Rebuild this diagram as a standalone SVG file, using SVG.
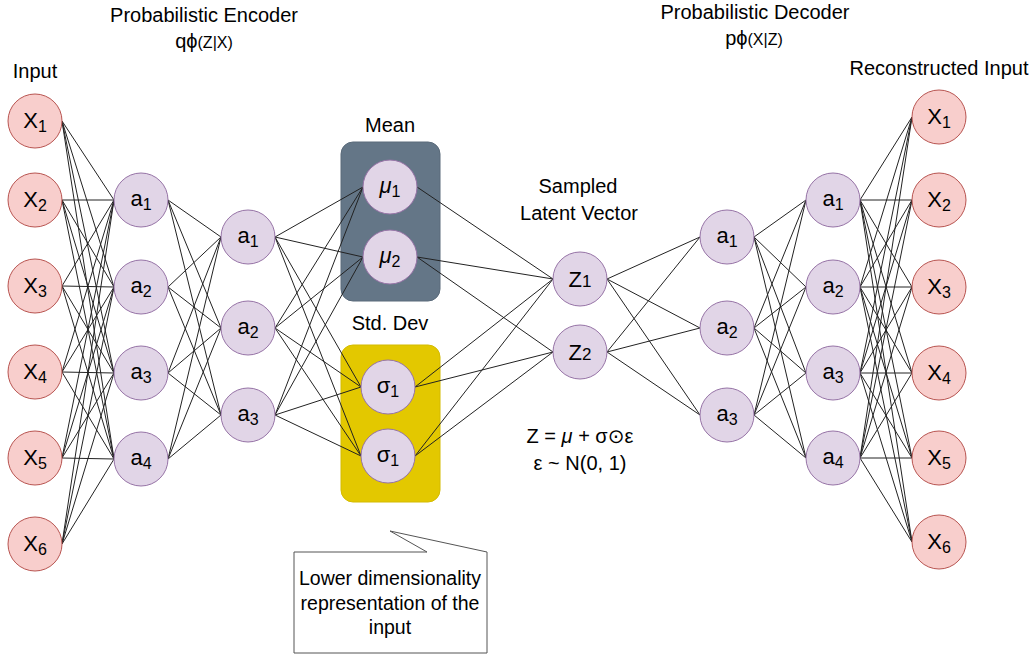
<svg xmlns="http://www.w3.org/2000/svg" width="1033" height="656" viewBox="0 0 1033 656">
<style>
text{font-family:"Liberation Sans",Arial,"DejaVu Sans",sans-serif;fill:#000;}
.t{font-size:20px;text-anchor:middle;}
.c{font-size:19.5px;text-anchor:middle;}
.lbl{font-size:22px;text-anchor:middle;}
.sub{font-size:16px;}
.xin{fill:#f8cecc;stroke:#b85450;stroke-width:1;}
.hid{fill:#e1d5e7;stroke:#9673a6;stroke-width:1;}
#edges path{stroke:#222;stroke-width:1;fill:none;}
</style>
<rect width="1033" height="656" fill="#ffffff"/>
<g id="titles">
<text class="t" x="204" y="22">Probabilistic Encoder</text>
<text class="t" x="204" y="48" style="font-size:20px">qϕ<tspan style="font-size:16px">(Z|X)</tspan></text>
<text class="t" x="35" y="78">Input</text>
<text class="t" x="755" y="19">Probabilistic Decoder</text>
<text class="t" x="754" y="45" style="font-size:20px">pϕ<tspan style="font-size:16px">(X|Z)</tspan></text>
<text class="t" x="939" y="75">Reconstructed Input</text>
<text class="t" x="390" y="132">Mean</text>
<text class="t" x="390" y="330">Std. Dev</text>
<text class="t" x="578" y="193">Sampled</text>
<text class="t" x="579" y="220">Latent Vector</text>
<text class="t" x="580" y="443">Z = <tspan font-style="italic">μ</tspan> + σ⊙ε</text>
<text class="t" x="580" y="470">ε ~ N(0, 1)</text>
</g>
<g id="mean-box"><rect x="341" y="142" width="99" height="159" rx="12" fill="#647687" stroke="#5a6a7a"/></g>
<g id="std-box"><rect x="341" y="345" width="99" height="157" rx="12" fill="#e3c800" stroke="#d4bb00"/></g>
<g id="edges">
<path d="M62 121L114 200"/><path d="M62 121L114 287"/><path d="M62 121L114 373"/><path d="M62 121L114 459"/>
<path d="M62 200L114 200"/><path d="M62 200L114 287"/><path d="M62 200L114 373"/><path d="M62 200L114 459"/>
<path d="M62 286L114 200"/><path d="M62 286L114 287"/><path d="M62 286L114 373"/><path d="M62 286L114 459"/>
<path d="M62 372L114 200"/><path d="M62 372L114 287"/><path d="M62 372L114 373"/><path d="M62 372L114 459"/>
<path d="M62 458L114 200"/><path d="M62 458L114 287"/><path d="M62 458L114 373"/><path d="M62 458L114 459"/>
<path d="M62 544L114 200"/><path d="M62 544L114 287"/><path d="M62 544L114 373"/><path d="M62 544L114 459"/>
<path d="M168 200L221 237"/><path d="M168 200L221 328"/><path d="M168 200L221 415"/>
<path d="M168 287L221 237"/><path d="M168 287L221 328"/><path d="M168 287L221 415"/>
<path d="M168 373L221 237"/><path d="M168 373L221 328"/><path d="M168 373L221 415"/>
<path d="M168 459L221 237"/><path d="M168 459L221 328"/><path d="M168 459L221 415"/>
<path d="M275 237L363 187"/><path d="M275 237L363 257"/><path d="M275 237L361 387"/><path d="M275 237L361 456"/>
<path d="M275 328L363 187"/><path d="M275 328L363 257"/><path d="M275 328L361 387"/><path d="M275 328L361 456"/>
<path d="M275 415L363 187"/><path d="M275 415L363 257"/><path d="M275 415L361 387"/><path d="M275 415L361 456"/>
<path d="M417 187L553 279"/>
<path d="M417 257L553 279"/><path d="M417 257L553 352"/>
<path d="M415 387L553 279"/><path d="M415 387L553 352"/>
<path d="M415 456L553 279"/><path d="M415 456L553 352"/>
<path d="M607 279L700 237"/><path d="M607 279L700 328"/><path d="M607 279L700 415"/>
<path d="M607 352L700 237"/><path d="M607 352L700 328"/><path d="M607 352L700 415"/>
<path d="M754 237L806 200"/><path d="M754 237L806 287"/><path d="M754 237L806 373"/><path d="M754 237L806 458"/>
<path d="M754 328L806 200"/><path d="M754 328L806 287"/><path d="M754 328L806 373"/><path d="M754 328L806 458"/>
<path d="M754 415L806 200"/><path d="M754 415L806 287"/><path d="M754 415L806 373"/><path d="M754 415L806 458"/>
<path d="M860 200L912 117"/><path d="M860 200L912 200"/><path d="M860 200L912 287"/><path d="M860 200L912 373"/><path d="M860 200L912 458"/><path d="M860 200L912 542"/>
<path d="M860 287L912 117"/><path d="M860 287L912 200"/><path d="M860 287L912 287"/><path d="M860 287L912 373"/><path d="M860 287L912 458"/><path d="M860 287L912 542"/>
<path d="M860 373L912 117"/><path d="M860 373L912 200"/><path d="M860 373L912 287"/><path d="M860 373L912 373"/><path d="M860 373L912 458"/><path d="M860 373L912 542"/>
<path d="M860 458L912 117"/><path d="M860 458L912 200"/><path d="M860 458L912 287"/><path d="M860 458L912 373"/><path d="M860 458L912 458"/><path d="M860 458L912 542"/>
</g>
<g id="in-x1"><circle class="xin" cx="35" cy="121" r="27"/><text class="lbl" x="35" y="128">X<tspan class="sub" dy="4">1</tspan></text></g>
<g id="in-x2"><circle class="xin" cx="35" cy="200" r="27"/><text class="lbl" x="35" y="207">X<tspan class="sub" dy="4">2</tspan></text></g>
<g id="in-x3"><circle class="xin" cx="35" cy="286" r="27"/><text class="lbl" x="35" y="293">X<tspan class="sub" dy="4">3</tspan></text></g>
<g id="in-x4"><circle class="xin" cx="35" cy="372" r="27"/><text class="lbl" x="35" y="379">X<tspan class="sub" dy="4">4</tspan></text></g>
<g id="in-x5"><circle class="xin" cx="35" cy="458" r="27"/><text class="lbl" x="35" y="465">X<tspan class="sub" dy="4">5</tspan></text></g>
<g id="in-x6"><circle class="xin" cx="35" cy="544" r="27"/><text class="lbl" x="35" y="551">X<tspan class="sub" dy="4">6</tspan></text></g>
<g id="enc1-a1"><circle class="hid" cx="141" cy="200" r="27"/><text class="lbl" x="141" y="206">a<tspan class="sub" dy="4">1</tspan></text></g>
<g id="enc1-a2"><circle class="hid" cx="141" cy="287" r="27"/><text class="lbl" x="141" y="293">a<tspan class="sub" dy="4">2</tspan></text></g>
<g id="enc1-a3"><circle class="hid" cx="141" cy="373" r="27"/><text class="lbl" x="141" y="379">a<tspan class="sub" dy="4">3</tspan></text></g>
<g id="enc1-a4"><circle class="hid" cx="141" cy="459" r="27"/><text class="lbl" x="141" y="465">a<tspan class="sub" dy="4">4</tspan></text></g>
<g id="enc2-a1"><circle class="hid" cx="248" cy="237" r="27"/><text class="lbl" x="248" y="243">a<tspan class="sub" dy="4">1</tspan></text></g>
<g id="enc2-a2"><circle class="hid" cx="248" cy="328" r="27"/><text class="lbl" x="248" y="334">a<tspan class="sub" dy="4">2</tspan></text></g>
<g id="enc2-a3"><circle class="hid" cx="248" cy="415" r="27"/><text class="lbl" x="248" y="421">a<tspan class="sub" dy="4">3</tspan></text></g>
<g id="mu1"><circle class="hid" cx="390" cy="187" r="27"/><text class="lbl" x="390" y="193"><tspan font-style="italic">μ</tspan><tspan class="sub" dy="4">1</tspan></text></g>
<g id="mu2"><circle class="hid" cx="390" cy="257" r="27"/><text class="lbl" x="390" y="263"><tspan font-style="italic">μ</tspan><tspan class="sub" dy="4">2</tspan></text></g>
<g id="sigma1"><circle class="hid" cx="388" cy="387" r="27"/><text class="lbl" x="388" y="393">σ<tspan class="sub" dy="4">1</tspan></text></g>
<g id="sigma2"><circle class="hid" cx="388" cy="456" r="27"/><text class="lbl" x="388" y="462">σ<tspan class="sub" dy="4">1</tspan></text></g>
<g id="z1"><circle class="hid" cx="580" cy="279" r="27"/><text class="lbl" x="580" y="287">Z<tspan style="font-size:17px">1</tspan></text></g>
<g id="z2"><circle class="hid" cx="580" cy="352" r="27"/><text class="lbl" x="580" y="360">Z<tspan style="font-size:17px">2</tspan></text></g>
<g id="dec1-a1"><circle class="hid" cx="727" cy="237" r="27"/><text class="lbl" x="727" y="243">a<tspan class="sub" dy="4">1</tspan></text></g>
<g id="dec1-a2"><circle class="hid" cx="727" cy="328" r="27"/><text class="lbl" x="727" y="334">a<tspan class="sub" dy="4">2</tspan></text></g>
<g id="dec1-a3"><circle class="hid" cx="727" cy="415" r="27"/><text class="lbl" x="727" y="421">a<tspan class="sub" dy="4">3</tspan></text></g>
<g id="dec2-a1"><circle class="hid" cx="833" cy="200" r="27"/><text class="lbl" x="833" y="206">a<tspan class="sub" dy="4">1</tspan></text></g>
<g id="dec2-a2"><circle class="hid" cx="833" cy="287" r="27"/><text class="lbl" x="833" y="293">a<tspan class="sub" dy="4">2</tspan></text></g>
<g id="dec2-a3"><circle class="hid" cx="833" cy="373" r="27"/><text class="lbl" x="833" y="379">a<tspan class="sub" dy="4">3</tspan></text></g>
<g id="dec2-a4"><circle class="hid" cx="833" cy="458" r="27"/><text class="lbl" x="833" y="464">a<tspan class="sub" dy="4">4</tspan></text></g>
<g id="out-x1"><circle class="xin" cx="939" cy="117" r="27"/><text class="lbl" x="939" y="124">X<tspan class="sub" dy="4">1</tspan></text></g>
<g id="out-x2"><circle class="xin" cx="939" cy="200" r="27"/><text class="lbl" x="939" y="207">X<tspan class="sub" dy="4">2</tspan></text></g>
<g id="out-x3"><circle class="xin" cx="939" cy="287" r="27"/><text class="lbl" x="939" y="294">X<tspan class="sub" dy="4">3</tspan></text></g>
<g id="out-x4"><circle class="xin" cx="939" cy="373" r="27"/><text class="lbl" x="939" y="380">X<tspan class="sub" dy="4">4</tspan></text></g>
<g id="out-x5"><circle class="xin" cx="939" cy="458" r="27"/><text class="lbl" x="939" y="465">X<tspan class="sub" dy="4">5</tspan></text></g>
<g id="out-x6"><circle class="xin" cx="939" cy="542" r="27"/><text class="lbl" x="939" y="549">X<tspan class="sub" dy="4">6</tspan></text></g>
<g id="callout">
<path d="M294 552H427L390 531L487 552V653H294Z" fill="#ffffff" stroke="#555" stroke-width="1"/>
<text class="c" x="390" y="585">Lower dimensionality</text>
<text class="c" x="390" y="610">representation of the</text>
<text class="c" x="390" y="634">input</text>
</g>
</svg>
